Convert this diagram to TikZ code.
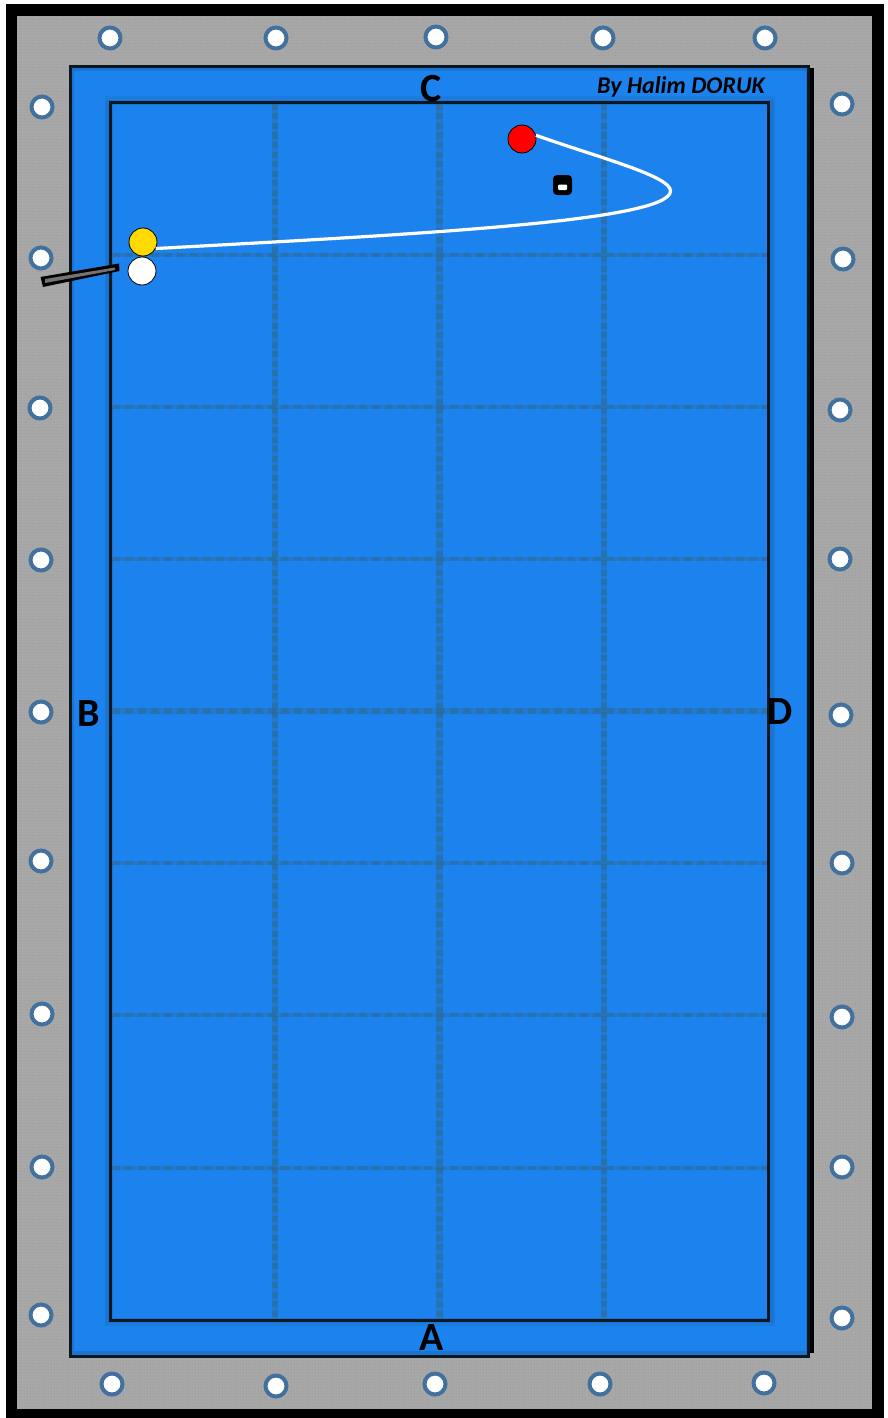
\documentclass[tikz,border=0pt]{standalone}
\usepackage{fontspec}
\setmainfont{Carlito}
\usetikzlibrary{patterns}
\definecolor{felt}{HTML}{1C83EE}
\definecolor{feltdark}{HTML}{1A74CE}
\definecolor{feltmid}{HTML}{1B7CE0}
\definecolor{railgray}{HTML}{A8A8A8}
\definecolor{ringblue}{HTML}{41719C}
\definecolor{gridblue}{HTML}{2C6A96}
\definecolor{linedark}{HTML}{0A1622}
\tikzset{
  x=1pt,y=-1pt,
  diamondmark/.style={circle,draw=ringblue,line width=4pt,fill=white,minimum size=21pt,inner sep=0pt},
  ball/.style={circle,draw=black,line width=0.8pt,minimum size=28pt,inner sep=0pt},
  gridunder/.style={gridblue,opacity=.35},
  gridv/.style={gridblue,dash pattern=on 6pt off 3.5pt,opacity=.55},
  gridh/.style={gridblue,dash pattern=on 8pt off 5pt,opacity=.55},
  railletter/.style={font=\bfseries\fontsize{40}{40}\selectfont,text=black,inner sep=0pt},
  signature/.style={font=\bfseries\itshape\fontsize{24}{24}\selectfont,text=black,inner sep=0pt}
}
\begin{document}
\begin{tikzpicture}
\useasboundingbox (0,0) rectangle (887,1418);
\fill[white] (0,0) rectangle (887,1418);
\fill[black] (6,4) rectangle (884,1418);
\fill[railgray] (17,16) rectangle (872,1409);
\fill[pattern=dots,pattern color=gray!75!black,opacity=.35] (17,16) rectangle (872,1409);
% table
\fill[black] (809,68) rectangle (814,1353);
\fill[feltdark] (70,66) rectangle (809,1357);
\fill[felt] (74,71) rectangle (806,1351);
\draw[linedark,line width=3.4pt] (808.5,66.5) -- (70.5,66.5) -- (70.5,1356.5) -- (808.5,1356.5) -- cycle;
% inner frame halo
\fill[feltmid] (105,96) rectangle (775,1326);
\fill[feltdark] (106,100) rectangle (774,1323);
\fill[felt] (113,105) rectangle (767,1318);
% grid
\foreach \gy in {255,407,559,863,1015,1168}{
  \draw[gridunder,line width=4pt] (112,\gy) -- (768,\gy);
  \draw[gridh,line width=4pt] (112,\gy) -- (768,\gy);
}
\draw[gridunder,line width=6.5pt] (112,711) -- (768,711);
\draw[gridh,line width=6.5pt] (112,711) -- (768,711);
\foreach \gx/\gw in {275/5.5,439/7,604/6}{
  \draw[gridunder,line width=\gw pt] (\gx,104) -- (\gx,1320);
  \draw[gridv,line width=\gw pt] (\gx,104) -- (\gx,1320);
}
\draw[linedark,line width=3.6pt] (110.5,102.5) rectangle (768.5,1320.5);
% diamonds
\foreach \i/\px/\py in {t1/110/38,t2/276/38,t3/436/37,t4/603/38,t5/765/38,
 l1/42/107,l2/41/258,l3/40/408,l4/41/560,l5/41/712,l6/41/861,l7/42/1014,l8/42/1167,l9/41/1315,
 r1/842/104,r2/843/259,r3/840/410,r4/840/559,r5/841/715,r6/842/863,r7/842/1017,r8/842/1167,r9/842/1318,
 b1/112/1384,b2/276/1386,b3/435/1384,b4/600/1384,b5/764/1383}{
  \node[diamondmark] (d\i) at (\px,\py) {};
}
% labels
\node[railletter] (lc) at (431.5,89) {C};
\node[railletter] (la) at (431.5,1338) {A};
\node[railletter] (lb) at (88.5,714) {B};
\node[railletter] (ld) at (780.5,712) {D};
\node[signature,anchor=east] (sig) at (765,87) {By Halim DORUK};
% balls
\node[ball,fill={rgb,255:red,255;green,217;blue,0}] (yellow) at (143,242) {};
\node[ball,fill=white] (cueball) at (142,271) {};
\node[ball,fill=red] (redball) at (522,139) {};
% shot
\coordinate (tip) at (670.5,191);
\draw[white,line width=3.2pt] (yellow.-27) .. controls (400,235) and (670.5,222) .. (tip) .. controls (670.5,176) and (600,158) .. (redball.15);
% cue
\fill[black] (40.5,277) -- (119,263.5) -- (119.5,271) -- (43,287) -- cycle;
\fill[gray!90!black] (45,279) -- (115,267.5) -- (115,270) -- (45,283) -- cycle;
% chalk
\fill[black,rounded corners=4pt] (553,175) rectangle (572,195);
\fill[white,rounded corners=1pt] (558,184.5) rectangle (567,190);
\end{tikzpicture}
\end{document}
